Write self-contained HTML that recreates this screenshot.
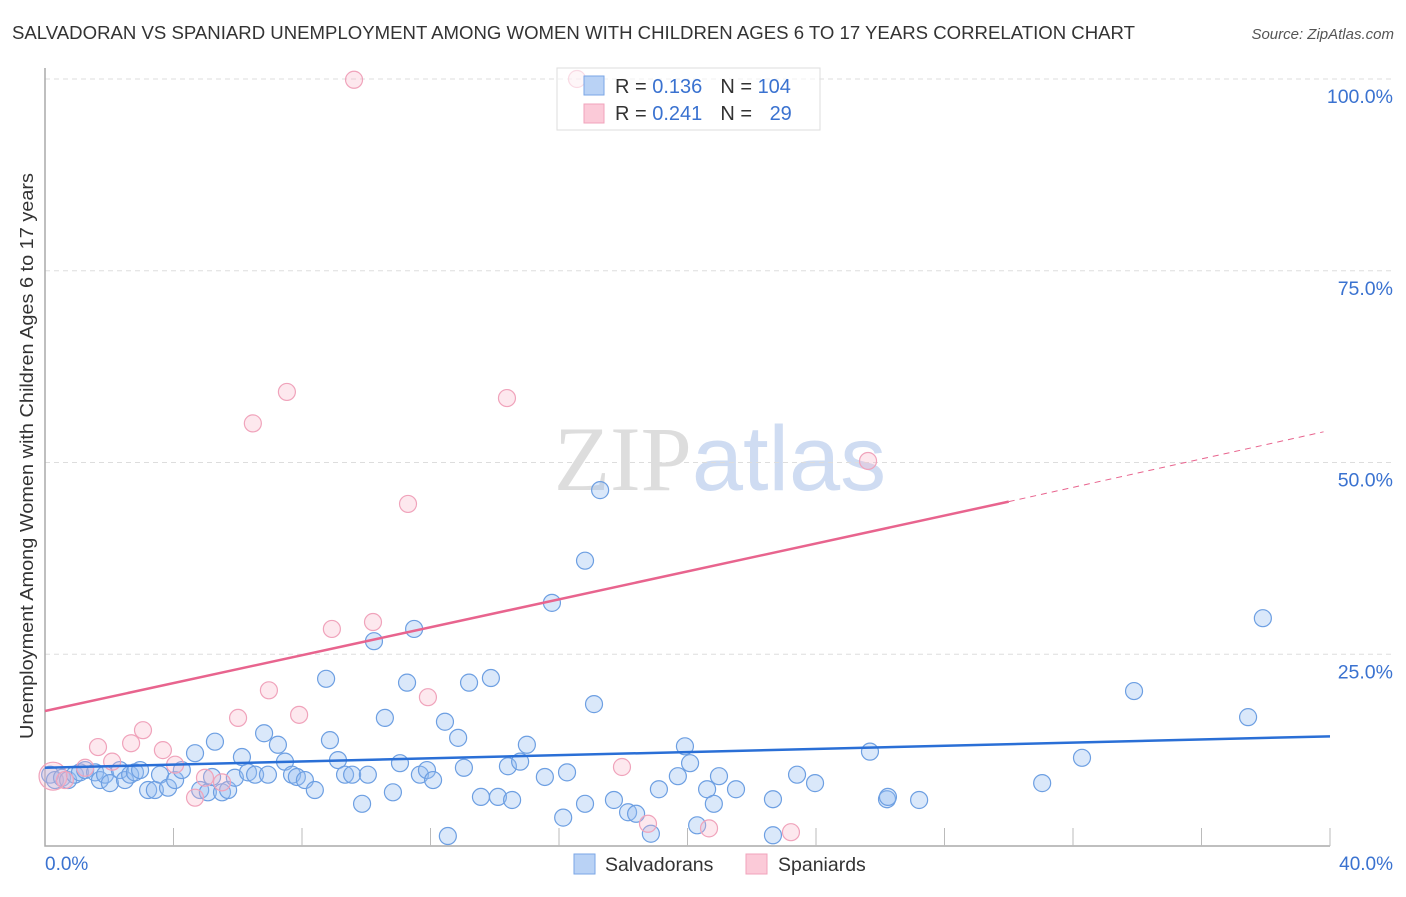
<!DOCTYPE html>
<html><head><meta charset="utf-8"><style>
body{margin:0;background:#fff;font-family:"Liberation Sans",sans-serif}
svg text{font-family:"Liberation Sans",sans-serif}
</style></head><body>
<svg id="chart" width="1406" height="892" xmlns="http://www.w3.org/2000/svg">
<text x="12" y="39" font-size="18" fill="#333" textLength="1123" lengthAdjust="spacingAndGlyphs">SALVADORAN VS SPANIARD UNEMPLOYMENT AMONG WOMEN WITH CHILDREN AGES 6 TO 17 YEARS CORRELATION CHART</text>
<text x="1394" y="39" font-size="15" fill="#555" text-anchor="end" font-style="italic">Source: ZipAtlas.com</text>
<text x="720" y="490" font-size="92" text-anchor="middle"><tspan fill="#ddd" font-family="Liberation Serif">ZIP</tspan><tspan fill="#cfdcf2">atlas</tspan></text>
<g id="grid"></g><g id="axes"></g><g id="pts"></g><g id="lines"></g>
<text transform="translate(33,456) rotate(-90)" font-size="18.5" fill="#333" text-anchor="middle" textLength="566" lengthAdjust="spacingAndGlyphs">Unemployment Among Women with Children Ages 6 to 17 years</text>
<g>
<rect x="557" y="68" width="263" height="62" fill="rgba(255,255,255,0.6)" stroke="#ddd"/>
<rect x="584" y="76" width="20" height="19" fill="#b9d2f5" stroke="#7aa6e6"/>
<rect x="584" y="104" width="20" height="19" fill="#fbcad8" stroke="#f0a3bb"/>
<text x="615" y="93" font-size="20" fill="#333">R = <tspan fill="#3a72d0">0.136</tspan><tspan dx="18">N = </tspan><tspan fill="#3a72d0">104</tspan></text>
<text x="615" y="120" font-size="20" fill="#333">R = <tspan fill="#3a72d0">0.241</tspan><tspan dx="18">N = </tspan><tspan fill="#3a72d0" dx="12">29</tspan></text>
</g>
<g>
<rect x="574" y="854" width="21" height="20" fill="#b9d2f5" stroke="#7aa6e6"/>
<text x="605" y="871" font-size="19.5" fill="#333">Salvadorans</text>
<rect x="746" y="854" width="21" height="20" fill="#fbcad8" stroke="#f0a3bb"/>
<text x="778" y="871" font-size="19.5" fill="#333">Spaniards</text>
</g>
</svg>
<script>
const xTicks=[0,4,8,12,16,20,24,28,32,36,40];
const yTicks=[25,50,75,100];
const yTickLabels=["25.0%","50.0%","75.0%","100.0%"];
const xEndLabels=["0.0%","40.0%"];
const salvX=[0.16,0.31,0.53,0.72,0.93,1.09,1.25,1.56,1.71,1.87,2.02,2.33,2.49,2.65,2.80,2.96,3.21,3.42,3.58,3.83,4.05,4.26,4.67,4.83,5.07,5.20,5.29,5.51,5.70,5.91,6.13,6.32,6.54,6.82,6.94,7.25,7.47,7.69,7.84,8.09,8.40,8.75,8.87,9.12,9.34,9.56,9.87,10.05,10.24,10.58,10.83,11.05,11.27,11.49,11.67,11.89,12.08,12.54,12.45,12.86,13.04,13.20,13.57,13.88,14.10,14.41,14.54,14.79,15.00,15.56,15.78,16.13,16.25,16.81,16.81,17.09,17.28,17.71,18.15,18.40,18.86,19.11,19.70,19.92,20.08,20.30,20.61,20.82,20.98,21.51,22.66,22.66,23.41,23.97,25.68,26.21,26.24,27.21,31.04,32.28,33.90,37.45,37.91];
const salvY=[9.3,8.6,8.9,8.6,9.3,9.6,9.9,9.6,8.6,9.3,8.2,9.9,8.6,9.3,9.6,9.9,7.3,7.3,9.3,7.6,8.6,9.9,12.1,7.3,7.0,9.0,13.6,7.0,7.3,8.9,11.6,9.6,9.3,14.7,9.3,13.2,11.0,9.3,9.0,8.6,7.3,21.8,13.8,11.2,9.3,9.3,5.5,9.3,26.7,16.7,7.0,10.8,21.3,28.3,9.3,9.9,8.6,1.3,16.2,14.1,10.2,21.3,6.4,21.9,6.4,10.4,6.0,11.0,13.2,9.0,31.7,3.7,9.6,37.2,5.5,18.5,46.4,6.0,4.4,4.2,1.6,7.4,9.1,13.0,10.8,2.7,7.4,5.5,9.1,7.4,1.4,6.1,9.3,8.2,12.3,6.1,6.4,6.0,8.2,11.5,20.2,16.8,29.7];
const spanX=[0.25,0.62,1.25,1.65,2.09,2.68,3.05,3.67,4.05,4.67,4.98,5.51,6.01,6.47,6.97,7.53,7.91,8.93,9.62,10.21,11.30,11.92,14.38,16.56,17.96,18.77,20.67,23.22,25.62];
const spanY=[9.1,8.6,10.2,12.9,11.0,13.4,15.1,12.5,10.6,6.3,8.9,8.3,16.7,55.1,20.3,59.2,17.1,28.3,99.9,29.2,44.6,19.4,58.4,100,10.3,2.9,2.3,1.8,50.2];
const salvTrend=[10.2,14.3];
const spanTrend=[17.6,44.9,54.0];
const trendX=[0,40];const spanTrendX=[0,30,39.8];
const X=v=>45+v*32.125, Y=v=>846-v*7.67;
const NS="http://www.w3.org/2000/svg";
function mk(p,t,a){const e=document.createElementNS(NS,t);for(const k in a)e.setAttribute(k,a[k]);document.getElementById(p).appendChild(e);return e;}
yTicks.forEach((t,i)=>{
 const g=mk('grid','line',{x1:45,x2:1395,y1:Y(t),y2:Y(t),stroke:'#ddd','stroke-dasharray':'5,4'});
 
 
 const l=mk('axes','text',{x:1393,y:Y(t)+24,'font-size':19.5,fill:'#3a72d0','text-anchor':'end'});
 l.textContent=yTickLabels[i];
 
 
});
const ax=mk('axes','path',{d:`M45 68 V846 H1330`,stroke:'#aaa',fill:'none','stroke-width':1.5});


xTicks.slice(1).forEach(t=>{
 const k=mk('axes','line',{x1:X(t),x2:X(t),y1:828,y2:846,stroke:'#bbb'});
 
 
});
[[0,'start',45],[40,'end',1393]].forEach((d,i)=>{
 const l=mk('axes','text',{x:d[2],y:870,'font-size':19,fill:'#3a72d0','text-anchor':d[1]});
 l.textContent=xEndLabels[i];
 
 
});
salvX.forEach((x,i)=>{
 const c=mk('pts','circle',{cx:X(x),cy:Y(salvY[i]),r:8.5,fill:'rgba(150,190,240,0.35)',stroke:'#6d9fe2','stroke-width':1.2});
 
 
});
spanX.forEach((x,i)=>{
 const c=mk('pts','circle',{cx:X(x),cy:Y(spanY[i]),r:i==0?14:8.5,fill:'rgba(248,180,200,0.3)',stroke:'#f0a3bb','stroke-width':1.2});
 
 
});
const bl=mk('lines','line',{x1:X(trendX[0]),y1:Y(salvTrend[0]),x2:X(trendX[1]),y2:Y(salvTrend[1]),stroke:'#2a6fd6','stroke-width':2.5});


const pl=mk('lines','line',{x1:X(spanTrendX[0]),y1:Y(spanTrend[0]),x2:X(spanTrendX[1]),y2:Y(spanTrend[1]),stroke:'#e8648e','stroke-width':2.5});


const pd=mk('lines','line',{x1:X(spanTrendX[1]),y1:Y(spanTrend[1]),x2:X(spanTrendX[2]),y2:Y(spanTrend[2]),stroke:'#e8648e','stroke-width':1,'stroke-dasharray':'6,5'});


</script>
</body></html>
